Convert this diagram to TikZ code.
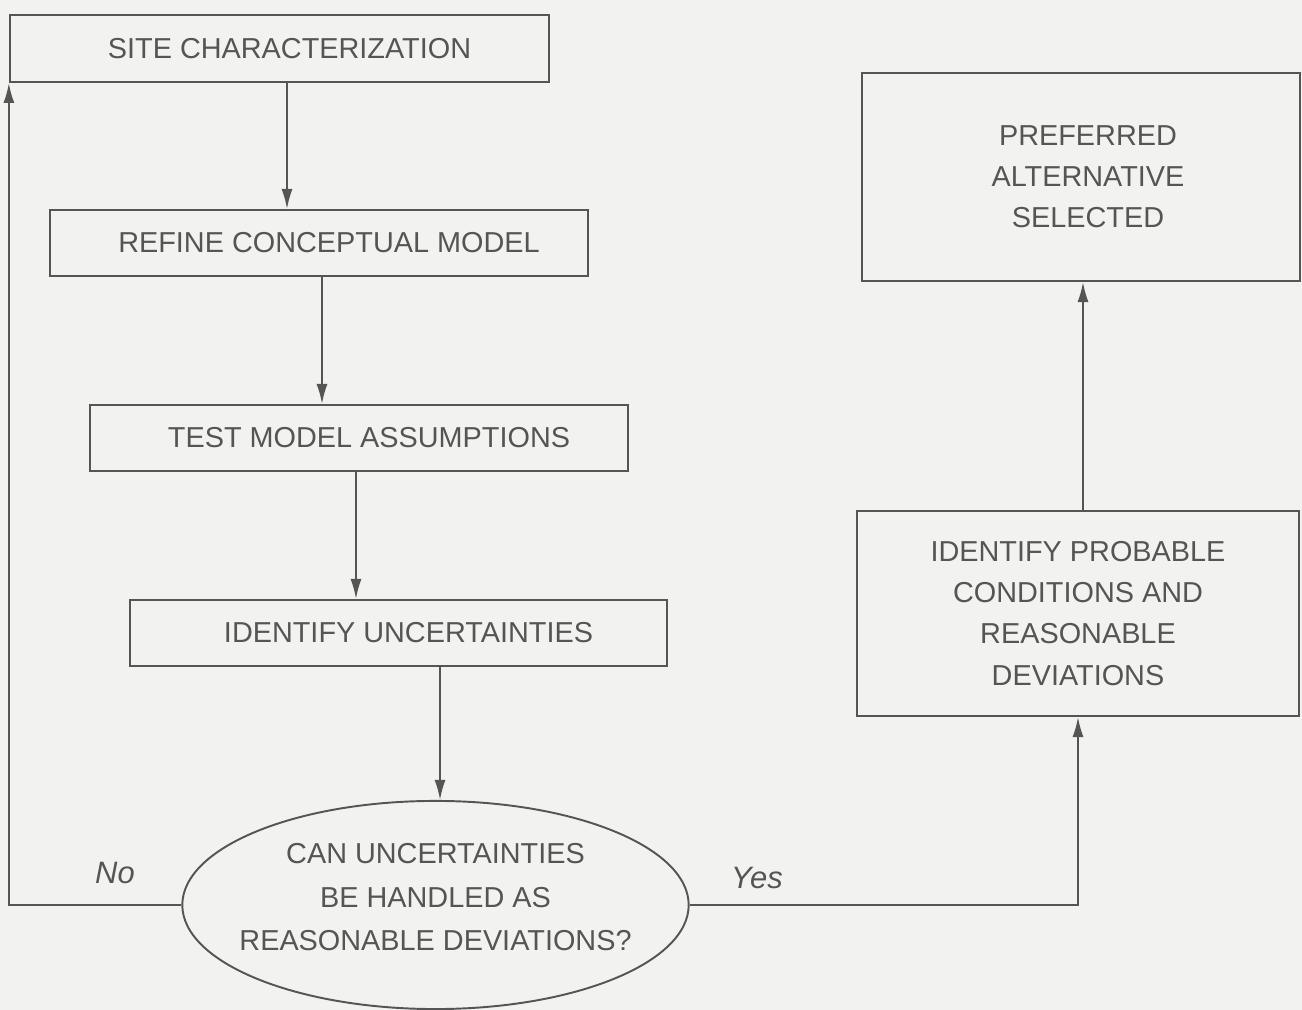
\documentclass[tikz,border=0pt]{standalone}
\usepackage{fontspec}
\setsansfont{Liberation Sans}
\usepackage{tikz}
\usetikzlibrary{shapes.geometric, arrows.meta, positioning, calc}
\definecolor{paperbg}{HTML}{F2F2F1}
\definecolor{inkgray}{HTML}{555555}

\tikzset{
  stepbox/.style={draw=inkgray, line width=0.55pt, rectangle, inner sep=0pt,
    text=inkgray, align=center, font=\fontsize{8.2}{11.7}\selectfont\sffamily},
  offcentre/.style={execute at begin node={\hspace*{#1}}},
  decision/.style={stepbox, ellipse, inner xsep=-0.17cm, text depth=0.16cm},
  flow/.style={draw=inkgray, line width=0.55pt, -{Latex[length=2mm,width=1.1mm]}},
  answer/.style={text=inkgray, font=\fontsize{8.8}{9}\selectfont\sffamily\itshape}
}

\begin{document}
\begin{tikzpicture}[x=0.01cm, y=-0.01cm]
  \fill[paperbg] (0,0) rectangle (1302,1010);
  \useasboundingbox (0,0) rectangle (1302,1010);

  % main column of steps
  \node[stepbox, offcentre=0.2cm, minimum width=5.39cm, minimum height=0.67cm] (site) at (279.5,48.5) {SITE CHARACTERIZATION};
  \node[stepbox, offcentre=0.2cm, minimum width=5.38cm, minimum height=0.66cm] (refine) at (319,243) {REFINE CONCEPTUAL MODEL};
  \node[stepbox, offcentre=0.2cm, minimum width=5.38cm, minimum height=0.66cm] (test) at (359,438) {TEST MODEL ASSUMPTIONS};
  \node[stepbox, offcentre=0.2cm, minimum width=5.37cm, minimum height=0.66cm] (uncert) at (398.5,633) {IDENTIFY UNCERTAINTIES};
  \node[decision, minimum width=5.05cm, minimum height=2.08cm] (handle) at (435.5,905)
    {CAN UNCERTAINTIES\\[0.02cm]BE HANDLED AS\\[0.02cm]REASONABLE DEVIATIONS?};

  % right column
  \node[stepbox, minimum width=4.42cm, minimum height=2.05cm] (probable) at (1078,613.5)
    {IDENTIFY PROBABLE\\CONDITIONS AND\\REASONABLE\\DEVIATIONS};
  \node[stepbox, minimum width=4.38cm, minimum height=2.08cm, text width=4.38cm] (preferred) at (1081,177)
    {\hspace*{0.14cm}PREFERRED\\\hspace*{0.14cm}ALTERNATIVE\\\hspace*{0.14cm}SELECTED};

  % connectors
  \draw[flow] ([xshift=0.075cm]site.south) -- ([xshift=0.075cm]site.south |- refine.north);
  \draw[flow] ([xshift=0.03cm]refine.south) -- ([xshift=0.03cm]refine.south |- test.north);
  \draw[flow] ([xshift=-0.03cm]test.south) -- ([xshift=-0.03cm]test.south |- uncert.north);
  \draw[flow] ([xshift=0.415cm]uncert.south) -- ([xshift=0.415cm]uncert.south |- handle.north);

  \coordinate (nocorner) at (site.south west |- handle.west);
  \draw[flow] (handle.west) -- (nocorner) -- (site.south west);
  \coordinate (yescorner) at (probable.south |- handle.east);
  \draw[flow] (handle.east) -- (yescorner) -- (probable.south);
  \draw[flow] ([xshift=0.05cm]probable.north) -- ([xshift=0.05cm]probable.north |- preferred.south);

  \node[answer] (no) at (115,873) {No};
  \node[answer] (yes) at (757,878) {Yes};
\end{tikzpicture}
\end{document}
